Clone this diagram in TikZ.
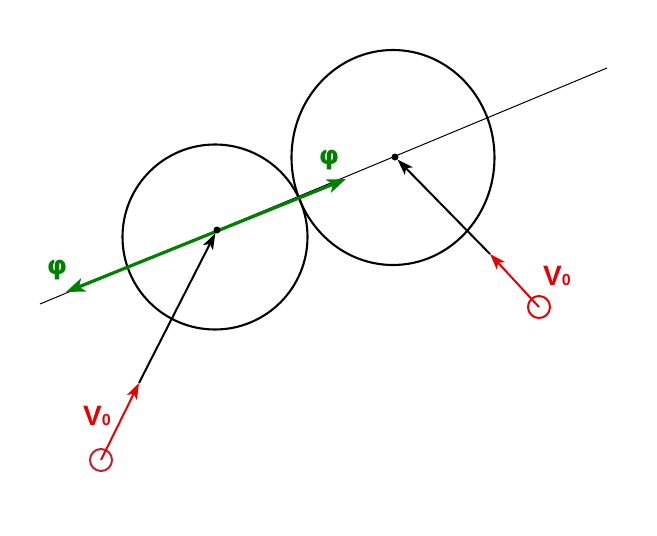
\documentclass[tikz,border=0pt]{standalone}
\usepackage{fontspec}
\usepackage{tikz}
\usepackage{xcolor}
\usetikzlibrary{arrows.meta,shapes.geometric}
\newfontfamily\labelfont{Liberation Sans}
\newfontfamily\greekfont{DejaVu Sans}
\definecolor{phigreen}{RGB}{0,128,0}
\definecolor{vred}{RGB}{230,0,0}
\definecolor{darkred}{RGB}{195,30,45}
\tikzset{
    ball/.style = {draw=black, line width=2.1pt, circle, inner sep=0pt},
    centre-dot/.style = {circle, fill=black, inner sep=0pt, minimum size=7pt},
    source-ring/.style = {draw=vred, line width=2pt, circle, inner sep=0pt, minimum size=22pt},
    phi-arrow/.style = {draw=phigreen, line width=3.2pt, {Stealth[length=19pt,width=14pt,inset=5pt]}-{Stealth[length=19pt,width=14pt,inset=5pt]}},
    push-arrow/.style = {draw=black, line width=2pt, -{Stealth[length=16pt,width=11pt,inset=4pt]}},
    v-arrow/.style = {draw=vred, line width=2pt, -{Stealth[length=16pt,width=11pt,inset=4pt]}},
    phi-label/.style = {text=phigreen, font=\greekfont\bfseries\fontsize{26}{26}\selectfont},
    v-label/.style = {text=vred, font=\labelfont\bfseries\fontsize{28}{28}\selectfont},
}
\begin{document}
\begin{tikzpicture}[x=1pt,y=-1pt]
\useasboundingbox (0,0) rectangle (657,536);
\node[ball, minimum size=185pt] (ball-left) at (215,237) {};
\node[ball, ellipse, minimum width=203pt, minimum height=215pt] (ball-right) at (393,157.5) {};
\coordinate (axis-start) at (40,304);
\coordinate (axis-end) at (607,68);
\draw[line width=1pt] (axis-start) -- (axis-end);
\coordinate (phi-start) at (66,292);
\coordinate (phi-end) at (346,179);
\draw[phi-arrow] (phi-start) -- (phi-end);
\node[centre-dot] (centre-left) at (217,230) {};
\node[centre-dot] (centre-right) at (395,157) {};
\node[source-ring, draw=darkred] (source-left) at (101,460) {};
\node[source-ring] (source-right) at (539,307) {};
\coordinate (v-left) at (139,383);
\coordinate (v-right) at (490,254);
\draw[v-arrow] (source-left.center) -- (v-left);
\draw[push-arrow] (v-left) -- (centre-left);
\draw[v-arrow] (source-right.center) -- (v-right);
\draw[push-arrow] (v-right) -- (centre-right);
\node[phi-label] (phi-left-label) at (57,270) {φ};
\node[phi-label] (phi-right-label) at (329,160) {φ};
\node[v-label] (v-left-label) at (97,416) {V{\fontsize{16}{16}\selectfont 0}};
\node[v-label] (v-right-label) at (557,276) {V{\fontsize{16}{16}\selectfont 0}};
\end{tikzpicture}
\end{document}
